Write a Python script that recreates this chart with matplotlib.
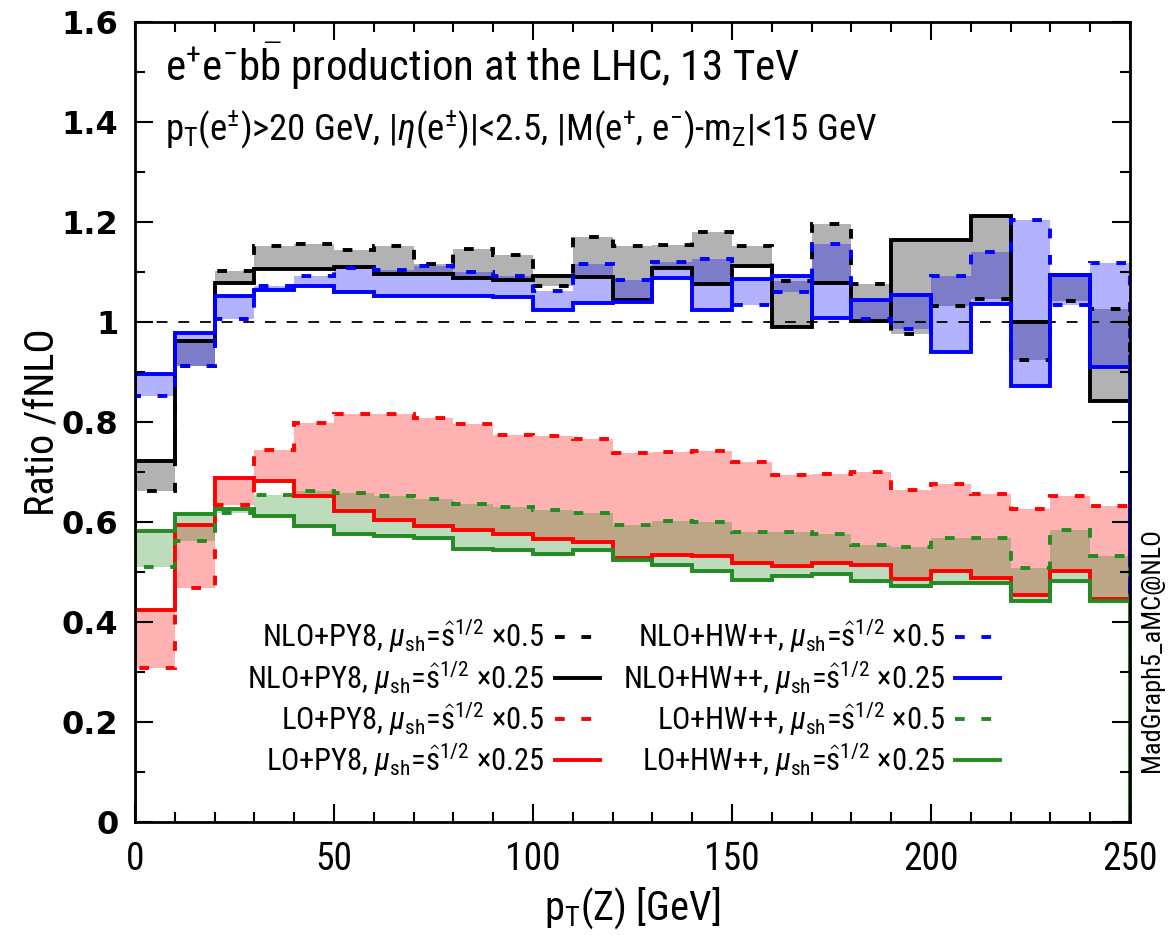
import numpy as np
import matplotlib
matplotlib.use("Agg")
from matplotlib import pyplot as plt
from matplotlib import font_manager

# bins in pT(Z), 10 GeV wide
edges = np.arange(0, 260, 10)

# ratios to fNLO
nlo_py8_05 = [0.662, 0.913, 1.102, 1.152, 1.157, 1.144, 1.152, 1.117, 1.147, 1.135, 1.073, 1.170, 1.153,
              1.154, 1.181, 1.153, 1.083, 1.197, 1.076, 0.977, 1.032, 1.047, 0.924, 1.042, 1.027]
nlo_py8_025 = [0.722, 0.963, 1.079, 1.107, 1.106, 1.111, 1.096, 1.096, 1.089, 1.084, 1.092, 1.091, 1.044,
               1.109, 1.076, 1.112, 0.991, 1.079, 1.003, 1.165, 1.164, 1.212, 1.000, 1.095, 0.842]
nlo_hw_05 = [0.852, 0.913, 1.007, 1.072, 1.093, 1.109, 1.105, 1.112, 1.101, 1.093, 1.063, 1.117, 1.085,
             1.121, 1.127, 1.034, 1.061, 1.156, 1.007, 0.987, 1.093, 1.140, 1.205, 1.034, 1.119]
nlo_hw_025 = [0.896, 0.979, 1.053, 1.064, 1.073, 1.060, 1.052, 1.053, 1.053, 1.050, 1.024, 1.039, 1.040,
              1.089, 1.024, 1.087, 1.092, 1.009, 1.044, 1.054, 0.940, 1.036, 0.873, 1.095, 0.911]
lo_py8_05 = [0.309, 0.469, 0.635, 0.744, 0.799, 0.817, 0.816, 0.809, 0.797, 0.775, 0.773, 0.766, 0.739,
             0.740, 0.743, 0.721, 0.695, 0.696, 0.701, 0.665, 0.677, 0.657, 0.626, 0.652, 0.632]
lo_py8_025 = [0.424, 0.594, 0.689, 0.683, 0.652, 0.623, 0.604, 0.592, 0.585, 0.576, 0.567, 0.561, 0.529,
              0.534, 0.532, 0.519, 0.512, 0.519, 0.515, 0.487, 0.502, 0.489, 0.455, 0.502, 0.447]
lo_hw_05 = [0.511, 0.563, 0.619, 0.654, 0.662, 0.659, 0.652, 0.646, 0.637, 0.631, 0.624, 0.619, 0.595,
            0.603, 0.601, 0.581, 0.580, 0.577, 0.555, 0.551, 0.568, 0.568, 0.509, 0.584, 0.533]
lo_hw_025 = [0.583, 0.617, 0.627, 0.612, 0.593, 0.576, 0.573, 0.569, 0.547, 0.544, 0.537, 0.544, 0.524,
             0.515, 0.503, 0.485, 0.492, 0.497, 0.483, 0.473, 0.479, 0.479, 0.443, 0.482, 0.443]

mu = r'$\mu_{\rm sh}$=$\hat{\rm s}^{1/2}$ ×'
labels_py8 = ['NLO+PY8, ' + mu + '0.5', 'NLO+PY8, ' + mu + '0.25',
              'LO+PY8, ' + mu + '0.5', 'LO+PY8, ' + mu + '0.25']
labels_hw = ['NLO+HW++, ' + mu + '0.5', 'NLO+HW++, ' + mu + '0.25',
             'LO+HW++, ' + mu + '0.5', 'LO+HW++, ' + mu + '0.25']

# narrow helvetica-like font, whichever is there
avail = {f.name for f in font_manager.fontManager.ttflist}
narrow = 'Liberation Sans'
for n in ['Liberation Sans Narrow', 'Arial Narrow', 'Roboto Condensed', 'Archivo Narrow', 'PT Sans Narrow']:
    if n in avail:
        narrow = n
        break

plt.rcParams['font.family'] = [narrow, 'DejaVu Sans']
plt.rcParams['mathtext.fontset'] = 'custom'
plt.rcParams['mathtext.rm'] = narrow
plt.rcParams['mathtext.it'] = narrow + ':italic'
plt.rcParams['mathtext.bf'] = narrow + ':bold'

fig = plt.figure(figsize=(11.76, 9.35), dpi=100)
ax = fig.add_axes([135/1176, 1 - 822/935, 995/1176, 800/935])

lw = 2.8
dash = (0, (7.0/lw, 12.0/lw))
green = '#228b22'

# bands
ax.stairs(nlo_py8_05, edges, baseline=nlo_py8_025, fill=True, color='black', alpha=0.3, lw=0)
ax.stairs(nlo_hw_05, edges, baseline=nlo_hw_025, fill=True, color='blue', alpha=0.3, lw=0)
ax.stairs(lo_py8_05, edges, baseline=lo_py8_025, fill=True, color='red', alpha=0.3, lw=0)
ax.stairs(lo_hw_05, edges, baseline=lo_hw_025, fill=True, color=green, alpha=0.3, lw=0)

ax.axhline(1.0, color='black', lw=1.3, ls=(0, (6, 6)), zorder=1)

series = [
    (nlo_py8_05, 'black', dash, labels_py8[0]),
    (nlo_py8_025, 'black', '-', labels_py8[1]),
    (lo_py8_05, 'red', dash, labels_py8[2]),
    (lo_py8_025, 'red', '-', labels_py8[3]),
    (nlo_hw_05, 'blue', dash, labels_hw[0]),
    (nlo_hw_025, 'blue', '-', labels_hw[1]),
    (lo_hw_05, green, dash, labels_hw[2]),
    (lo_hw_025, green, '-', labels_hw[3]),
]
handles = []
for vals, col, ls, lab in series:
    ax.stairs(vals, edges, baseline=0, color=col, ls=ls, lw=lw)
    h, = ax.plot([], [], color=col, ls=ls, lw=lw, label=lab)
    handles.append(h)

leg = ax.legend(handles=handles, ncol=2, markerfirst=False, frameon=False,
                loc='upper right', bbox_to_anchor=(0.869, 0.255), fontsize=22,
                handlelength=1.47, handletextpad=0.33, columnspacing=0.75, labelspacing=0.13,
                borderpad=0, borderaxespad=0)

ax.set_xlim(0, 250)
ax.set_ylim(0, 1.6)
ax.set_xticks(np.arange(0, 251, 50))
ax.set_xticks(np.arange(0, 251, 10), minor=True)
ax.set_yticks(np.arange(0, 1.61, 0.2))
ax.set_yticks(np.arange(0, 1.61, 0.1), minor=True)
ax.set_yticklabels(['0', '0.2', '0.4', '0.6', '0.8', '1', '1.2', '1.4', '1.6'],
                   fontfamily='DejaVu Sans', fontweight='bold', fontsize=23)
ax.tick_params(axis='x', labelsize=27, pad=14)
ax.tick_params(axis='y', pad=12)
ax.tick_params(which='both', direction='in', top=True, right=True, width=1.5)
ax.tick_params(which='major', length=13)
ax.tick_params(which='minor', length=7)
for s in ax.spines.values():
    s.set_linewidth(2)

ax.set_xlabel(r'p$_{\rm T}$(Z) [GeV]', fontsize=29, labelpad=4)
ax.set_ylabel('Ratio /fNLO', fontsize=29, labelpad=0)

ax.text(0.03, 0.945, r'e$^{+}$e$^{-}$b$\bar{\rm b}$ production at the LHC, 13 TeV',
        transform=ax.transAxes, fontsize=31, va='center')
ax.text(0.03, 0.865, r'p$_{\rm T}$(e$^{\pm}$)>20 GeV, |$\eta$(e$^{\pm}$)|<2.5, |M(e$^{+}$, e$^{-}$)-m$_{\rm Z}$|<15 GeV',
        transform=ax.transAxes, fontsize=26.5, va='center')
fig.text(1152/1176, 1 - 650/935, 'MadGraph5_aMC@NLO', rotation=90, fontsize=19,
         ha='center', va='center')

fig.savefig('out.png', dpi=100)
